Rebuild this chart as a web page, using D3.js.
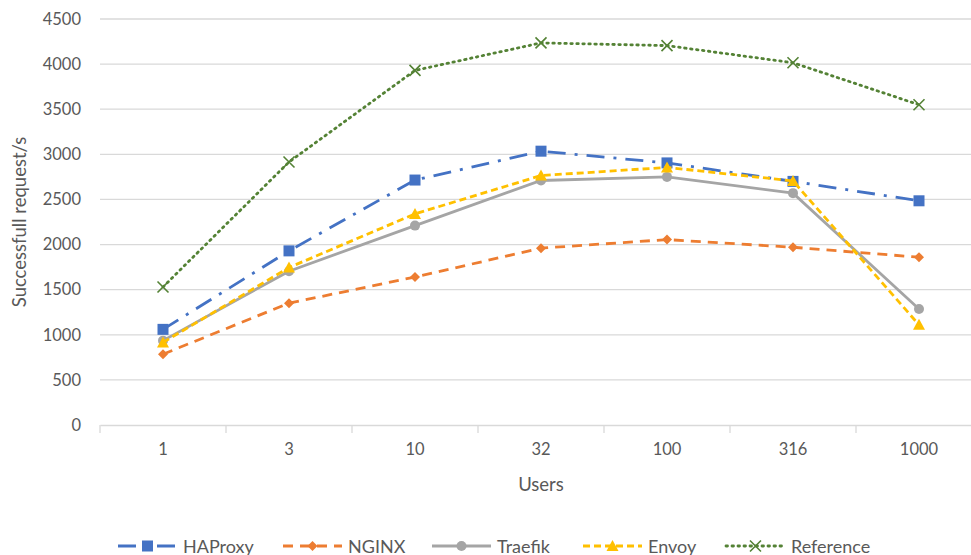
<!DOCTYPE html>
<html>
<head>
<meta charset="utf-8">
<script src="https://cdn.jsdelivr.net/npm/d3@7"></script>
<style>
  body { margin: 0; background: #fff; }
  svg { display: block; font-family: Lato, "Open Sans", sans-serif; }
</style>
</head>
<body>
<div id="chart"></div>
<script>
// Users (categories) and successful requests/s per proxy
const users = ["1", "3", "10", "32", "100", "316", "1000"];
const haproxy   = [1060, 1930, 2715, 3035, 2905, 2700, 2485];
const nginx     = [785, 1350, 1640, 1960, 2055, 1970, 1860];
const traefik   = [935, 1705, 2210, 2710, 2750, 2570, 1285];
const envoy     = [915, 1745, 2340, 2765, 2855, 2705, 1110];
const reference = [1530, 2915, 3930, 4235, 4205, 4015, 3550];
const yTicks = [0, 500, 1000, 1500, 2000, 2500, 3000, 3500, 4000, 4500];

const series = [
  { name: "HAProxy", values: haproxy, color: "#4472C4", dash: "18,9,3,9", marker: "square" },
  { name: "NGINX", values: nginx, color: "#ED7D31", dash: "10,7", marker: "diamond" },
  { name: "Traefik", values: traefik, color: "#A5A5A5", dash: null, marker: "circle" },
  { name: "Envoy", values: envoy, color: "#FFC000", dash: "7,4", marker: "triangle" },
  { name: "Reference", values: reference, color: "#548235", dash: "1.5,4.5", marker: "cross" }
];

const W = 971, H = 555;
const margin = { top: 19, left: 100, bottom: 130 };
const plotH = H - margin.top - margin.bottom;

const svg = d3.select("#chart").append("svg")
  .attr("width", W).attr("height", H);

const x = d3.scaleBand().domain(users).range([margin.left, margin.left + 126 * users.length]);
const y = d3.scaleLinear().domain([0, 4500]).range([margin.top + plotH, margin.top]);

// gridlines
svg.append("g").selectAll("line")
  .data(yTicks.filter(d => d > 0))
  .join("line")
  .attr("x1", margin.left).attr("x2", W)
  .attr("y1", d => y(d)).attr("y2", d => y(d))
  .attr("stroke", "#d9d9d9").attr("stroke-width", 1.3);

// y axis labels
const yAxis = svg.append("g")
  .attr("transform", `translate(${margin.left},0)`)
  .call(d3.axisLeft(y).tickValues(yTicks).tickFormat(d3.format("d")).tickSize(0).tickPadding(19));
yAxis.select(".domain").remove();
yAxis.selectAll("text").attr("font-size", 16.5).attr("fill", "#595959").attr("font-family", "Lato, sans-serif");

// x axis
const xAxis = svg.append("g")
  .attr("transform", `translate(0,${y(0)})`)
  .call(d3.axisBottom(x).tickSize(0).tickPadding(18));
xAxis.select(".domain").attr("stroke", "#d9d9d9").attr("stroke-width", 1.3);
xAxis.selectAll("text").attr("font-size", 16.5).attr("fill", "#595959").attr("font-family", "Lato, sans-serif");
svg.append("g").selectAll("line")
  .data(users)
  .join("line")
  .attr("x1", d => x(d)).attr("x2", d => x(d))
  .attr("y1", y(0)).attr("y2", y(0) + 8)
  .attr("stroke", "#d9d9d9").attr("stroke-width", 1.3);

// axis titles
svg.append("text")
  .attr("transform", `translate(26,${(y(0) + y(4500)) / 2}) rotate(-90)`)
  .attr("text-anchor", "middle")
  .attr("font-size", 18.5).attr("fill", "#595959")
  .text("Successfull request/s");
svg.append("text")
  .attr("x", (x.range()[0] + x.range()[1]) / 2 - 0).attr("y", 491)
  .attr("text-anchor", "middle")
  .attr("font-size", 18.5).attr("fill", "#595959")
  .text("Users");

const cx = d => x(d) + x.bandwidth() / 2;

function drawMarker(g, type, color) {
  if (type === "square") {
    g.append("rect").attr("x", -5.5).attr("y", -5.5).attr("width", 11).attr("height", 11).attr("fill", color);
  } else if (type === "diamond") {
    g.append("path").attr("d", "M0,-5L5,0L0,5L-5,0Z").attr("fill", color);
  } else if (type === "circle") {
    g.append("circle").attr("r", 5).attr("fill", color);
  } else if (type === "triangle") {
    g.append("path").attr("d", "M0,-6L6,5L-6,5Z").attr("fill", color);
  } else if (type === "cross") {
    g.append("path").attr("d", "M-5.5,-5.5L5.5,5.5M5.5,-5.5L-5.5,5.5")
      .attr("stroke", color).attr("stroke-width", 1.6).attr("fill", "none");
  }
}

const line = d3.line().x((d, i) => cx(users[i])).y(d => y(d));

series.forEach(s => {
  svg.append("path")
    .datum(s.values)
    .attr("d", line)
    .attr("fill", "none")
    .attr("stroke", s.color)
    .attr("stroke-width", 2.8)
    .attr("stroke-linecap", s.marker === "cross" ? "round" : "butt")
    .attr("stroke-dasharray", s.dash);
  s.values.forEach((v, i) => {
    const g = svg.append("g").attr("transform", `translate(${cx(users[i])},${y(v)})`);
    drawMarker(g, s.marker, s.color);
  });
});

// legend
const legendX = [118, 283, 432, 583, 726];
const legend = svg.append("g").attr("transform", "translate(0,546)");
series.forEach((s, i) => {
  const g = legend.append("g").attr("transform", `translate(${legendX[i]},0)`);
  g.append("line").attr("x1", 0).attr("x2", 59).attr("y1", 0).attr("y2", 0)
    .attr("stroke", s.color).attr("stroke-width", 2.8)
    .attr("stroke-linecap", s.marker === "cross" ? "round" : "butt")
    .attr("stroke-dasharray", s.dash);
  const m = g.append("g").attr("transform", "translate(29.5,0)");
  drawMarker(m, s.marker, s.color);
  g.append("text").attr("x", 65).attr("y", 6.5)
    .attr("font-size", 18).attr("fill", "#595959")
    .text(s.name);
});
</script>
</body>
</html>
